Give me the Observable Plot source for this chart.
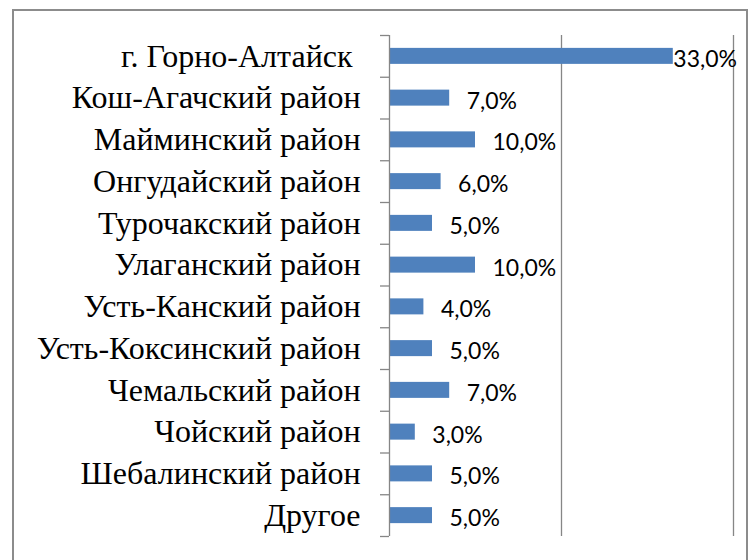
<!DOCTYPE html>
<html>
<head>
<meta charset="utf-8">
<script src="https://cdn.jsdelivr.net/npm/d3@7"></script>
<script src="https://cdn.jsdelivr.net/npm/@observablehq/plot@0.6"></script>
<style>
  html, body { margin: 0; padding: 0; background: #fff; }
  #wrap { position: relative; width: 755px; height: 560px; overflow: hidden; }
  #frame { position: absolute; left: 12px; top: 9px; width: 736px; height: 600px;
           box-sizing: border-box; border: 2px solid #8c8c8c; border-bottom: none; pointer-events: none; }
  svg text { white-space: pre; }
</style>
</head>
<body>
<div id="wrap"><div id="frame"></div></div>
<script>
const categories = [
  "г. Горно-Алтайск ",
  "Кош-Агачский район",
  "Майминский район",
  "Онгудайский район",
  "Турочакский район",
  "Улаганский район",
  "Усть-Канский район",
  "Усть-Коксинский район",
  "Чемальский район",
  "Чойский район",
  "Шебалинский район",
  "Другое"
];
const values = [33, 7, 10, 6, 5, 10, 4, 5, 7, 3, 5, 5];
const xTicks = [0, 20, 40];

const data = categories.map((c, i) => ({category: c, value: values[i]}));
const fmt = v => v.toFixed(1).replace(".", ",") + "%";

const W = 755, H = 560, mT = 35, mB = 24, mL = 389, mR = 22;
const bw = (H - mT - mB) / categories.length;
const barH = 16;
const inset = (bw - barH) / 2;
const gray = "#868686";
const valueFont = "Lato, 'Open Sans', sans-serif";

const chart = Plot.plot({
  width: W, height: H,
  marginLeft: mL, marginRight: mR, marginTop: mT, marginBottom: mB,
  style: {background: "transparent"},
  x: {domain: [xTicks[0], xTicks[xTicks.length - 1]], axis: null},
  y: {domain: categories, padding: 0, round: false, axis: null, label: null},
  marks: [
    Plot.ruleX(xTicks.slice(1), {stroke: gray, strokeWidth: 1.3}),
    Plot.barX(data, {x: "value", y: "category", fill: "#4F81BD", insetTop: inset, insetBottom: inset}),
    Plot.ruleX([xTicks[0]], {stroke: gray, strokeWidth: 1.3}),
    Plot.axisY({tickSize: 9, tickFormat: () => "", dy: -bw / 2, stroke: gray, strokeWidth: 1.3, label: null}),
    Plot.axisY([categories[categories.length - 1]], {tickSize: 9, tickFormat: () => "", dy: bw / 2, stroke: gray, strokeWidth: 1.3, label: null}),
    Plot.axisY({tickSize: 0, tickPadding: 29, fontSize: 32, fontFamily: "'Liberation Serif', 'Times New Roman', serif", fill: "#000", dy: 0, label: null}),
    Plot.text(data.filter(d => d.value < 30), {x: "value", y: "category", text: d => fmt(d.value), textAnchor: "start", dx: 17, dy: 3, fontSize: 23, fontFamily: valueFont, fill: "#000"}),
    Plot.text(data.filter(d => d.value >= 30), {x: "value", y: "category", text: d => fmt(d.value), textAnchor: "start", dx: 0, dy: 3, fontSize: 23, fontFamily: valueFont, fill: "#000"})
  ]
});
document.getElementById("wrap").insertBefore(chart, document.getElementById("frame"));
</script>
</body>
</html>
